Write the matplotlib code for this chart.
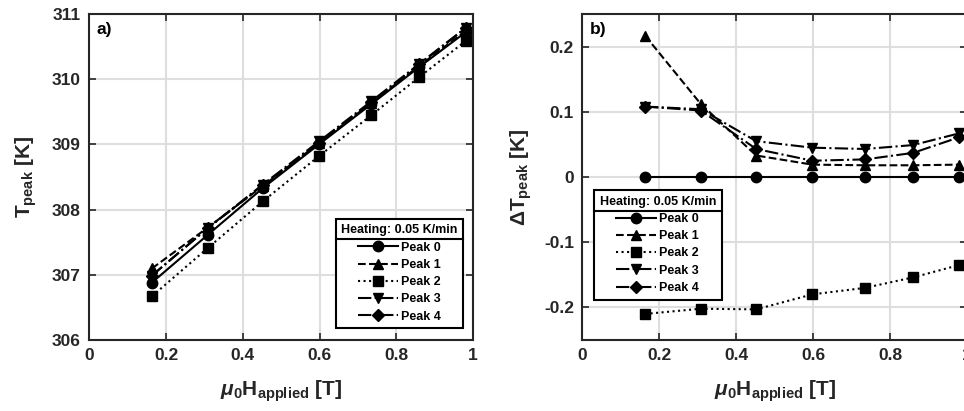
import matplotlib
matplotlib.use("Agg")
import matplotlib.pyplot as plt
from matplotlib.lines import Line2D
import numpy as np

plt.rcParams['font.family'] = ['Liberation Sans', 'DejaVu Sans']
plt.rcParams['font.weight'] = 'bold'
plt.rcParams['axes.labelweight'] = 'bold'
plt.rcParams['mathtext.fontset'] = 'custom'
plt.rcParams['mathtext.rm'] = 'Liberation Sans:bold'
plt.rcParams['mathtext.bf'] = 'Liberation Sans:bold'
plt.rcParams['mathtext.it'] = 'Liberation Sans:italic'

# applied field values [T]
field = [0.163, 0.308, 0.452, 0.598, 0.735, 0.860, 0.980]

# absolute peak temperature of peak 0 [K]
t_peak0 = [306.88, 307.61, 308.33, 309.00, 309.62, 310.19, 310.72]

# peak shifts relative to peak 0 [K]
dt_peak0 = [0, 0, 0, 0, 0, 0, 0]
dt_peak1 = [0.217, 0.112, 0.033, 0.019, 0.018, 0.018, 0.019]
dt_peak2 = [-0.210, -0.202, -0.203, -0.180, -0.170, -0.154, -0.135]
dt_peak3 = [0.108, 0.104, 0.055, 0.045, 0.043, 0.049, 0.067]
dt_peak4 = [0.108, 0.102, 0.043, 0.025, 0.027, 0.037, 0.061]

names = ['Peak 0', 'Peak 1', 'Peak 2', 'Peak 3', 'Peak 4']
shifts = [dt_peak0, dt_peak1, dt_peak2, dt_peak3, dt_peak4]
styles = [('-', 'o'), ('--', '^'), (':', 's'), ('-.', 'v'), ('-.', 'D')]
msizes = [7.5, 7.5, 7, 7.5, 6.5]

legend_title = 'Heating: 0.05 K/min'
dark = '#262626'

fig = plt.figure(figsize=(9.64, 4.11), dpi=100)
ax_a = fig.add_axes([0.0926, 0.1727, 0.3983, 0.7932])
ax_b = fig.add_axes([0.6041, 0.1727, 0.3989, 0.7932])


def style_axes(ax):
    ax.set_xlim(0, 1)
    ax.set_xticks([0, 0.2, 0.4, 0.6, 0.8, 1])
    ax.set_xticklabels(['0', '0.2', '0.4', '0.6', '0.8', '1'])
    ax.grid(True, color='#dedede', linewidth=1.5)
    ax.set_axisbelow(True)
    for s in ax.spines.values():
        s.set_linewidth(1.5)
        s.set_color(dark)
    ax.tick_params(direction='in', top=True, right=True, length=5, width=1.2,
                   color=dark, labelsize=12.5, labelcolor=dark, pad=6)
    ax.set_xlabel(r'$\mu_{0}$H$_{\mathrm{applied}}$ [T]', fontsize=15,
                  color=dark, labelpad=11)


def add_legend(ax, handles, **kw):
    leg = ax.legend(handles=handles, labels=names, title=legend_title,
                    fontsize=9, title_fontsize=9, handlelength=3.2,
                    labelspacing=0.42, handletextpad=0.25, borderpad=0.45,
                    framealpha=1, fancybox=False, edgecolor='black',
                    borderaxespad=0, alignment='center', **kw)
    leg.get_frame().set_linewidth(1.5)
    leg.get_title().set_fontweight('bold')
    return leg


# panel a: absolute peak temperatures
handles_a = []
for name, dt, (ls, mk), ms in zip(names, shifts, styles, msizes):
    t = np.array(t_peak0) + np.array(dt)
    h, = ax_a.plot(field, t, color='black', linestyle=ls, marker=mk,
                   markersize=ms, linewidth=1.5, label=name)
    handles_a.append(h)
style_axes(ax_a)
ax_a.set_ylim(306, 311)
ax_a.set_yticks([306, 307, 308, 309, 310, 311])
ax_a.set_ylabel(r'T$_{\mathrm{peak}}$ [K]', fontsize=15, color=dark, labelpad=9)
ax_a.text(0.02, 0.975, 'a)', transform=ax_a.transAxes, fontsize=12.5,
          fontweight='bold', va='top', ha='left')
leg_a = add_legend(ax_a, handles_a, loc='lower right', bbox_to_anchor=(0.974, 0.036))

# panel b: shifts relative to peak 0
handles_b = []
for name, dt, (ls, mk), ms in zip(names, shifts, styles, msizes):
    h, = ax_b.plot(field, dt, color='black', linestyle=ls, marker=mk,
                   markersize=ms, linewidth=1.5, label=name)
    handles_b.append(h)
style_axes(ax_b)
ax_b.set_ylim(-0.25, 0.25)
ax_b.set_yticks([-0.2, -0.1, 0, 0.1, 0.2])
ax_b.set_yticklabels(['-0.2', '-0.1', '0', '0.1', '0.2'])
ax_b.set_ylabel(r'ΔT$_{\mathrm{peak}}$ [K]', fontsize=15, color=dark, labelpad=7)
ax_b.text(0.02, 0.975, 'b)', transform=ax_b.transAxes, fontsize=12.5,
          fontweight='bold', va='top', ha='left')
leg_b = add_legend(ax_b, handles_b, loc='upper left', bbox_to_anchor=(0.03, 0.46))

# separator line below the legend titles, as in MATLAB legends
fig.canvas.draw()
renderer = fig.canvas.get_renderer()
inv = fig.transFigure.inverted()
for leg in [leg_a, leg_b]:
    box = leg.get_frame().get_window_extent(renderer)
    tb = leg.get_title().get_window_extent(renderer)
    y = tb.y0 - 3
    (x0, yf), (x1, _) = inv.transform([(box.x0, y), (box.x1, y)])
    fig.add_artist(Line2D([x0, x1], [yf, yf], color='black', linewidth=1.5,
                          transform=fig.transFigure))

fig.savefig('out.png', dpi=100)
